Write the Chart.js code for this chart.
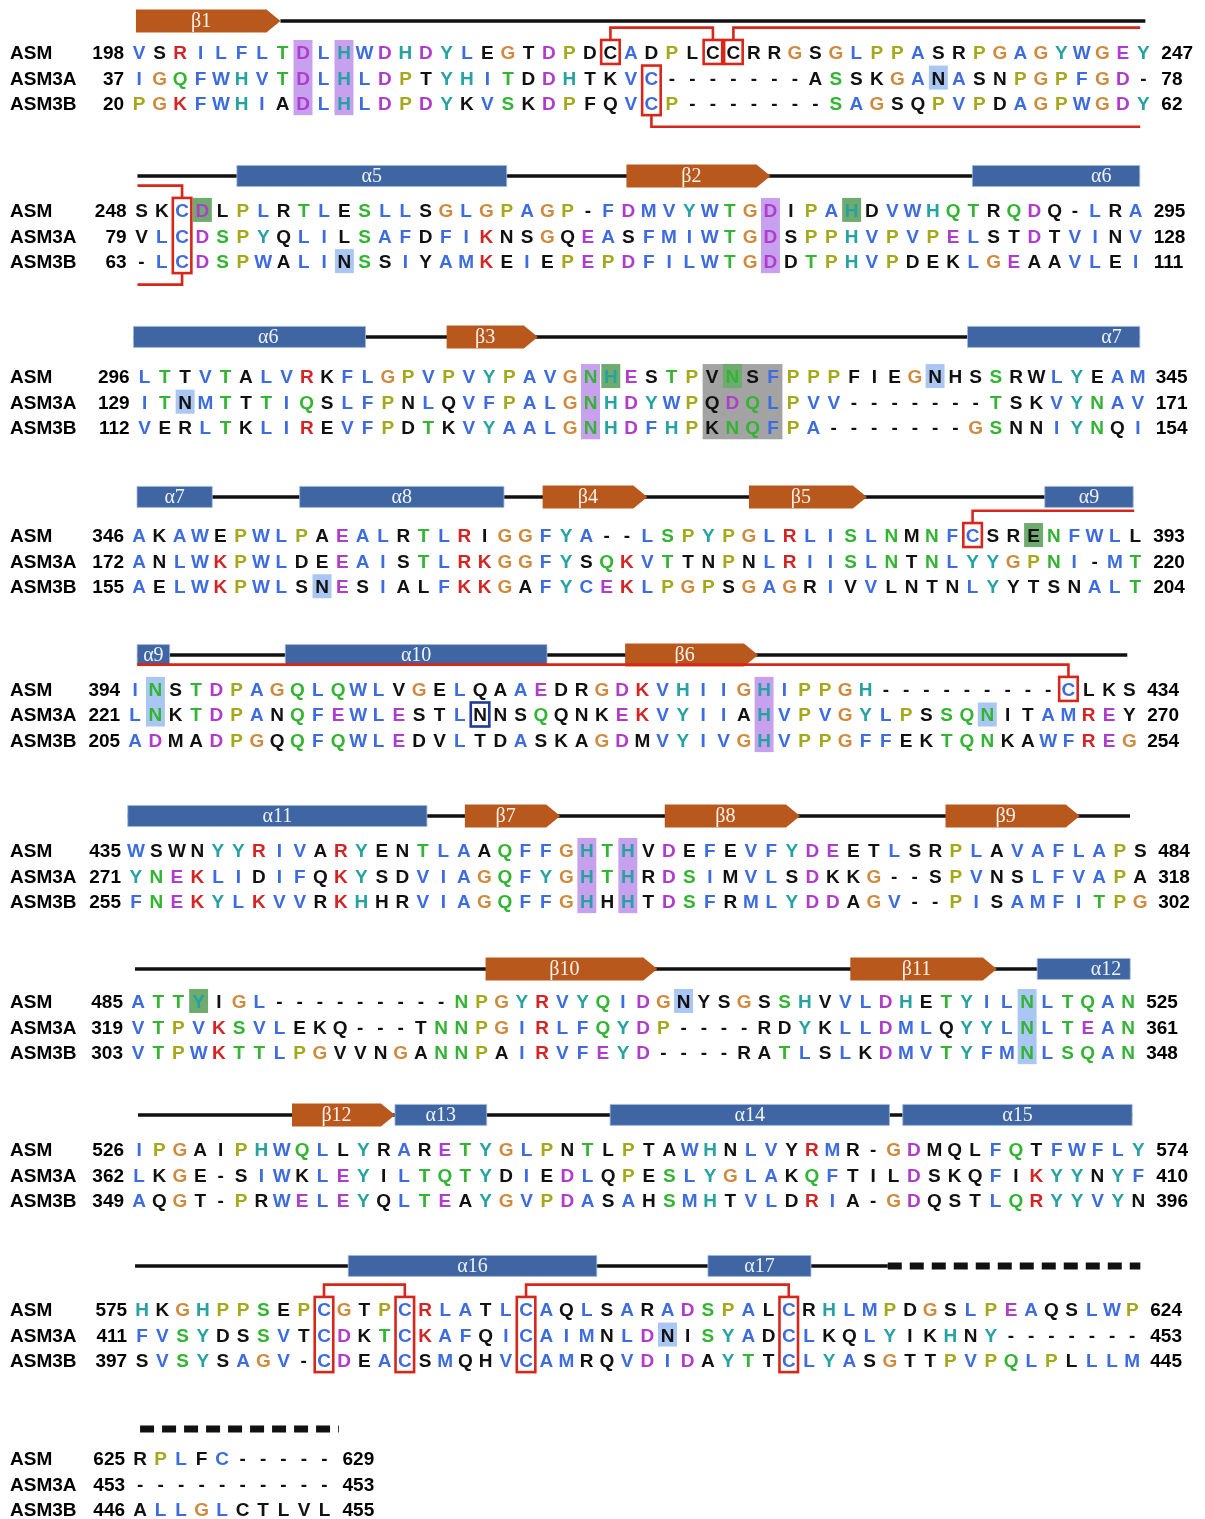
<!DOCTYPE html>
<html lang="en">
<head>
  <meta charset="UTF-8">
  <title>ASM / ASM3A / ASM3B alignment</title>
  <script src="https://cdn.jsdelivr.net/npm/chart.js"></script>
  <style>
    html, body { margin: 0; padding: 0; background: #fff; }
    .chart-container { width: 1205px; height: 1519px; }
  </style>
</head>
<body>
<div class="chart-container">
  <canvas id="alnChart"></canvas>
</div>

<script>
// ---- data: one string per alignment block ----
const seqNames = ['ASM', 'ASM3A', 'ASM3B'];

const asmSeq = [
  'VSRILFLTDLHWDHDYLEGTDPDCADPLCCRRGSGLPPASRPGAGYWGEY',
  'SKCDLPLRTLESLLSGLGPAGP-FDMVYWTGDIPAHDVWHQTRQDQ-LRA',
  'LTTVTALVRKFLGPVPVYPAVGNHESTPVNSFPPPFIEGNHSSRWLYEAM',
  'AKAWEPWLPAEALRTLRIGGFYA--LSPYPGLRLISLNMNFCSRENFWLL',
  'INSTDPAGQLQWLVGELQAAEDRGDKVHIIGHIPPGH---------CLKS',
  'WSWNYYRIVARYENTLAAQFFGHTHVDEFEVFYDEETLSRPLAVAFLAPS',
  'ATTYIGL---------NPGYRVYQIDGNYSGSSHVVLDHETYILNLTQAN',
  'IPGAIPHWQLLYRARETYGLPNTLPTAWHNLVYRMR-GDMQLFQTFWFLY',
  'HKGHPPSEPCGTPCRLATLCAQLSARADSPALCRHLMPDGSLPEAQSLWP',
  'RPLFC-----'
];
const asm3aSeq = [
  'IGQFWHVTDLHLDPTYHITDDHTKVC-------ASSKGANASNPGPFGD-',
  'VLCDSPYQLILSAFDFIKNSGQEASFMIWTGDSPPHVPVPELSTDTVINV',
  'ITNMTTTIQSLFPNLQVFPALGNHDYWPQDQLPVV-------TSKVYNAV',
  'ANLWKPWLDEEAISTLRKGGFYSQKVTTNPNLRIISLNTNLYYGPNI-MT',
  'LNKTDPANQFEWLESTLNNSQQNKEKVYIIAHVPVGYLPSSQNITAMREY',
  'YNEKLIDIFQKYSDVIAGQFYGHTHRDSIMVLSDKKG--SPVNSLFVAPA',
  'VTPVKSVLEKQ---TNNPGIRLFQYDP----RDYKLLDMLQYYLNLTEAN',
  'LKGE-SIWKLEYILTQTYDIEDLQPESLYGLAKQFTILDSKQFIKYYNYF',
  'FVSYDSSVTCDKTCKAFQICAIMNLDNISYADCLKQLYIKHNY-------',
  '----------'
];
const asm3bSeq = [
  'PGKFWHIADLHLDPDYKVSKDPFQVCP-------SAGSQPVPDAGPWGDY',
  '-LCDSPWALINSSIYAMKEIEPEPDFILWTGDDTPHVPDEKLGEAAVLEI',
  'VERLTKLIREVFPDTKVYAALGNHDFHPKNQFPA-------GSNNIYNQI',
  'AELWKPWLSNESIALFKKGAFYCEKLPGPSGAGRIVVLNTNLYYTSNALT',
  'ADMADPGQQFQWLEDVLTDASKAGDMVYIVGHVPPGFFEKTQNKAWFREG',
  'FNEKYLKVVRKHHRVIAGQFFGHHHTDSFRMLYDDAGV--PISAMFITPG',
  'VTPWKTTLPGVVNGANNPAIRVFEYD----RATLSLKDMVTYFMNLSQAN',
  'AQGT-PRWELEYQLTEAYGVPDASAHSMHTVLDRIA-GDQSTLQRYYVYN',
  'SVSYSAGV-CDEACSMQHVCAMRQVDIDAYTTCLYASGTTPVPQLPLLLM',
  'ALLGLCTLVL'
];

const asmStart   = [198, 248, 296, 346, 394, 435, 485, 526, 575, 625];
const asmEnd     = [247, 295, 345, 393, 434, 484, 525, 574, 624, 629];
const asm3aStart = [37, 79, 129, 172, 221, 271, 319, 362, 411, 453];
const asm3aEnd   = [78, 128, 171, 220, 270, 318, 361, 410, 453, 453];
const asm3bStart = [20, 63, 112, 155, 205, 255, 303, 349, 397, 446];
const asm3bEnd   = [62, 111, 154, 204, 254, 302, 348, 396, 445, 455];

// secondary structure of ASM, in alignment columns: [block, from, to, style]
const ssLines = [
  [0, 7.9, 50.1, 'solid'], [1, 0.8, 50.2, 'solid'], [2, 0.45, 50.1, 'solid'],
  [3, 0.9, 49.9, 'solid'], [4, 1.1, 49.9, 'solid'], [5, 0.6, 49.5, 'solid'],
  [6, 0.85, 50.1, 'solid'], [7, 0.95, 49.7, 'solid'], [8, 0.65, 37.9, 'solid'],
  [8, 37.9, 50.4, 'dash'], [9, 1.0, 10.7, 'dash']
];
// [block, type, label, from, to, label column (optional)]
const ssElems = [
  [0, 'strand', 'β1', 0.85, 7.9],
  [1, 'helix', 'α5', 5.7, 19.0],
  [1, 'strand', 'β2', 24.9, 32.0],
  [1, 'helix', 'α6', 41.95, 50.2, 48.3],
  [2, 'helix', 'α6', 0.45, 11.9, 7.1],
  [2, 'strand', 'β3', 15.9, 20.4],
  [2, 'helix', 'α7', 41.6, 50.1, 48.7],
  [3, 'helix', 'α7', 0.9, 4.6],
  [3, 'helix', 'α8', 8.9, 18.95],
  [3, 'strand', 'β4', 20.85, 26.0],
  [3, 'strand', 'β5', 31.0, 36.8],
  [3, 'helix', 'α9', 45.55, 49.9],
  [4, 'helix', 'α9', 1.1, 2.7],
  [4, 'helix', 'α10', 8.4, 21.3],
  [4, 'strand', 'β6', 25.15, 31.7],
  [5, 'helix', 'α11', 0.6, 15.2],
  [5, 'strand', 'β7', 17.05, 21.7],
  [5, 'strand', 'β8', 26.8, 33.4],
  [5, 'strand', 'β9', 40.5, 47.05],
  [6, 'strand', 'β10', 18.2, 26.7],
  [6, 'strand', 'β11', 36.25, 43.5],
  [6, 'helix', 'α12', 45.5, 50.1, 48.9],
  [7, 'strand', 'β12', 8.5, 13.55],
  [7, 'helix', 'α13', 13.55, 18.05],
  [7, 'helix', 'α14', 24.1, 37.8],
  [7, 'helix', 'α15', 38.45, 49.7],
  [8, 'helix', 'α16', 11.2, 23.5],
  [8, 'helix', 'α17', 29.0, 34.1]
];

// shaded residues: [block, fromCol, toCol, fromRow, toRow, kind]
const highlights = [
  [0, 9, 9, 0, 2, 'purple'], [0, 11, 11, 0, 2, 'purple'], [0, 40, 40, 1, 1, 'blue'],
  [1, 4, 4, 0, 0, 'green'], [1, 36, 36, 0, 0, 'green'], [1, 32, 32, 0, 2, 'purple'],
  [1, 11, 11, 2, 2, 'blue'],
  [2, 23, 23, 0, 2, 'purple'], [2, 24, 24, 0, 0, 'green'], [2, 29, 32, 0, 2, 'gray'],
  [2, 30, 30, 0, 0, 'green'], [2, 40, 40, 0, 0, 'blue'], [2, 3, 3, 1, 1, 'blue'],
  [3, 45, 45, 0, 0, 'green'], [3, 10, 10, 2, 2, 'blue'],
  [4, 2, 2, 0, 1, 'blue'], [4, 32, 32, 0, 2, 'purple'], [4, 43, 43, 1, 1, 'blue'],
  [5, 23, 23, 0, 2, 'purple'], [5, 25, 25, 0, 2, 'purple'],
  [6, 4, 4, 0, 0, 'green'], [6, 28, 28, 0, 0, 'blue'], [6, 45, 45, 0, 2, 'blue'],
  [8, 27, 27, 1, 1, 'blue']
];
// boxed cysteines [block, col, fromRow, toRow] and disulfide links [block, from, to, side]
const cysBoxes = [
  [0, 24, 0, 0], [0, 29, 0, 0], [0, 30, 0, 0], [0, 26, 1, 2],
  [1, 3, 0, 2], [3, 42, 0, 0], [4, 47, 0, 0],
  [8, 10, 0, 2], [8, 14, 0, 2], [8, 20, 0, 2], [8, 33, 0, 2]
];
const ssBonds = [
  [0, 24, 29, 'top'], [0, 30, 49.85, 'top'], [0, 26, 49.85, 'bottom'],
  [1, 0.8, 3, 'top'], [1, 0.8, 3, 'bottom'],
  [3, 42, 49.95, 'top'], [4, 1.1, 47, 'top'],
  [8, 10, 14, 'top'], [8, 20, 33, 'top']
];
const navyBoxes = [[4, 18, 1, 1]];

// ---- layout (axis units: x = alignment column, y = text row) ----
const X_MIN = -5.75, X_MAX = 52.75;
const ROW_PX = 25.6;
const Y_MAX = 1519 / ROW_PX;
const blockRow = [2.03, 8.2, 14.69, 20.9, 26.91, 33.2, 39.1, 44.88, 51.13, 56.95];
const ssRow    = [0.82, 6.875, 13.16, 19.41, 25.59, 31.875, 37.85, 43.55, 49.45, 55.82];
const blockShift   = [0, 0.12, 0.27, 0, -0.19, -0.15, -0.05, 0, 0.15, 0.05];
const blockStretch = [0.995, 0.985, 0.984, 0.987, 0.985, 0.995, 0.981, 0.99, 0.981, 0.995];

function colValue(b, c) {
  return 1 + blockShift[b] + (c - 1) * blockStretch[b];
}

// ---- Clustal X colouring ----
const CLX = {
  BLUE: '#3d6be0', RED: '#d42424', GREEN: '#33b533', CYAN: '#27a2a2',
  PINK: '#e07f7f', MAGENTA: '#b03ccc', YELLOW: '#a5a81a', ORANGE: '#cf8a3d'
};
const HYD = 'WLVIMAFCYHP';
const BLUE_IF = '%#ACFHILMVWYPp';
const RULES = {
  G: [['ORANGE', '*']], P: [['YELLOW', '*']],
  T: [['GREEN', 'tST%#']], S: [['GREEN', 'tST#']],
  N: [['GREEN', 'nND']], Q: [['GREEN', 'qQE+KR']],
  W: [['BLUE', BLUE_IF]], L: [['BLUE', BLUE_IF]], V: [['BLUE', BLUE_IF]],
  I: [['BLUE', BLUE_IF]], M: [['BLUE', BLUE_IF]], F: [['BLUE', BLUE_IF]],
  A: [['BLUE', BLUE_IF + 'TSG']],
  C: [['BLUE', '%#AFHILMVWYSPp'], ['PINK', 'C']],
  H: [['CYAN', BLUE_IF]], Y: [['CYAN', BLUE_IF]],
  E: [['MAGENTA', '-DEqQ']], D: [['MAGENTA', '-DEnN']],
  K: [['RED', '+KRQ']], R: [['RED', '+KRQ']]
};

function columnFlags(chars) {
  const pct = set => 100 * chars.filter(ch => set.includes(ch)).length / chars.length;
  const f = new Set(['*']);
  if (pct(HYD) >= 60) f.add('%');
  if (pct(HYD) >= 80) f.add('#');
  if (pct('ED') >= 50) f.add('-');
  if (pct('KR') >= 60) f.add('+');
  if (pct('G') >= 50) f.add('g');
  if (pct('N') >= 50) f.add('n');
  if (pct('QE') >= 50) f.add('q');
  if (pct('P') >= 50) f.add('p');
  if (pct('TS') >= 50) f.add('t');
  'ACDEFGHIKLMNPQRSTVWY'.split('').forEach(a => { if (pct(a) >= 85) f.add(a); });
  return f;
}

function residueColour(ch, flags) {
  const rules = RULES[ch];
  if (!rules) return '#111';
  for (const [col, cond] of rules) {
    if (cond.split('').some(k => flags.has(k))) return CLX[col];
  }
  return '#111';
}

// one point per residue, placed by the chart's scales
const allSeqs = [asmSeq, asm3aSeq, asm3bSeq];
const residuePoints = [];
for (let b = 0; b < asmSeq.length; b++) {
  const len = asmSeq[b].length;
  for (let c = 0; c < len; c++) {
    const chars = allSeqs.map(s => s[b][c]);
    const flags = columnFlags(chars);
    chars.forEach((ch, r) => {
      residuePoints.push({
        x: colValue(b, c + 1), y: blockRow[b] + r, ch,
        color: ch === '-' ? '#111' : residueColour(ch, flags)
      });
    });
  }
}

const SHADE = {
  purple: '#c7a1ee', green: '#6eab6e', blue: '#a9c7f2', gray: '#a3a3a3'
};
const FONT = 'bold 19px "Liberation Sans", Arial, sans-serif';

const alignmentPlugin = {
  id: 'alignment',
  beforeDatasetsDraw(chart) {
    const { ctx, scales: { x, y } } = chart;
    ctx.save();
    const colW = Math.abs(x.getPixelForValue(1) - x.getPixelForValue(0));
    highlights.forEach(([b, c0, c1, r0, r1, kind]) => {
      const xl = x.getPixelForValue(colValue(b, c0)) - colW * 0.46;
      const xr = x.getPixelForValue(colValue(b, c1)) + colW * 0.46;
      const yt = y.getPixelForValue(blockRow[b] + r0) - 12;
      const yb = y.getPixelForValue(blockRow[b] + r1) + 12;
      ctx.fillStyle = SHADE[kind];
      ctx.fillRect(xl, yt, xr - xl, yb - yt);
    });

    // secondary structure track
    ssLines.forEach(([b, c0, c1, style]) => {
      const yy = y.getPixelForValue(ssRow[b]);
      ctx.beginPath();
      ctx.strokeStyle = '#111';
      if (style === 'dash') {
        ctx.lineWidth = 7;
        ctx.setLineDash([14, 8]);
      } else {
        ctx.lineWidth = 3.5;
        ctx.setLineDash([]);
      }
      ctx.moveTo(x.getPixelForValue(colValue(b, c0)), yy);
      ctx.lineTo(x.getPixelForValue(colValue(b, c1)), yy);
      ctx.stroke();
    });
    ctx.setLineDash([]);

    ssElems.forEach(([b, type, label, c0, c1, lc]) => {
      const yy = y.getPixelForValue(ssRow[b]);
      const x0 = x.getPixelForValue(colValue(b, c0));
      const x1 = x.getPixelForValue(colValue(b, c1));
      let lx;
      ctx.beginPath();
      if (type === 'helix') {
        const h = 21;
        ctx.fillStyle = '#3f66a3';
        ctx.rect(x0, yy - h / 2, x1 - x0, h);
        ctx.fill();
        ctx.strokeStyle = 'rgba(160,185,225,0.8)';
        ctx.lineWidth = 1;
        ctx.stroke();
        lx = (x0 + x1) / 2;
      } else {
        const h = 23, tip = Math.min(14, (x1 - x0) * 0.4);
        ctx.fillStyle = '#b9581c';
        ctx.moveTo(x0, yy - h / 2);
        ctx.lineTo(x1 - tip, yy - h / 2);
        ctx.lineTo(x1, yy);
        ctx.lineTo(x1 - tip, yy + h / 2);
        ctx.lineTo(x0, yy + h / 2);
        ctx.closePath();
        ctx.fill();
        lx = (x0 + x1 - tip) / 2;
      }
      if (lc !== undefined) lx = x.getPixelForValue(colValue(b, lc));
      ctx.fillStyle = 'rgba(255,255,255,0.92)';
      ctx.font = '20px "Liberation Serif", "DejaVu Serif", serif';
      ctx.textAlign = 'center';
      ctx.textBaseline = 'middle';
      ctx.fillText(label, lx, yy + 1);
    });
    ctx.restore();
  },
  afterDatasetsDraw(chart) {
    const { ctx, scales: { x, y } } = chart;
    const meta = chart.getDatasetMeta(0);
    const pts = chart.data.datasets[0].data;
    ctx.save();
    ctx.font = FONT;
    ctx.textBaseline = 'alphabetic';
    ctx.textAlign = 'center';
    meta.data.forEach((el, i) => {
      ctx.fillStyle = pts[i].color;
      ctx.fillText(pts[i].ch, el.x, el.y + 7);
    });

    // names and residue numbers
    const starts = [asmStart, asm3aStart, asm3bStart];
    const ends = [asmEnd, asm3aEnd, asm3bEnd];
    ctx.fillStyle = '#000';
    for (let b = 0; b < asmSeq.length; b++) {
      const len = asmSeq[b].length;
      for (let r = 0; r < 3; r++) {
        const yy = y.getPixelForValue(blockRow[b] + r) + 7;
        ctx.textAlign = 'left';
        ctx.fillText(seqNames[r], x.getPixelForValue(X_MIN) + 10, yy);
        ctx.textAlign = 'right';
        ctx.fillText(String(starts[r][b]), x.getPixelForValue(colValue(b, 1)) - 15, yy);
        ctx.textAlign = 'left';
        ctx.fillText(String(ends[r][b]), x.getPixelForValue(colValue(b, len)) + 18, yy);
      }
    }

    // cysteine boxes and disulfide links
    const colW = Math.abs(x.getPixelForValue(1) - x.getPixelForValue(0));
    const boxTop = (b, r) => y.getPixelForValue(blockRow[b] + r) - 12;
    const boxBot = (b, r) => y.getPixelForValue(blockRow[b] + r) + 12;
    ctx.lineWidth = 2.6;
    ctx.strokeStyle = '#d8261b';
    cysBoxes.forEach(([b, c, r0, r1]) => {
      const xc = x.getPixelForValue(colValue(b, c));
      ctx.strokeRect(xc - colW * 0.45, boxTop(b, r0), colW * 0.9, boxBot(b, r1) - boxTop(b, r0));
    });
    ssBonds.forEach(([b, c0, c1, side]) => {
      const xa = x.getPixelForValue(colValue(b, c0));
      const xb = x.getPixelForValue(colValue(b, c1));
      const boxes = cysBoxes.filter(bx => bx[0] === b);
      const boxAt = c => boxes.find(bx => bx[1] === c);
      ctx.beginPath();
      if (side === 'top') {
        const ly = y.getPixelForValue(blockRow[b] - 0.95);
        const ba = boxAt(c0), bb = boxAt(c1);
        if (ba) { ctx.moveTo(xa, boxTop(b, ba[2])); ctx.lineTo(xa, ly); } else ctx.moveTo(xa, ly);
        ctx.lineTo(xb, ly);
        if (bb) ctx.lineTo(xb, boxTop(b, bb[2]));
      } else {
        const ly = y.getPixelForValue(blockRow[b] + 2 + 0.92);
        const ba = boxAt(c0), bb = boxAt(c1);
        if (ba) { ctx.moveTo(xa, boxBot(b, ba[3])); ctx.lineTo(xa, ly); } else ctx.moveTo(xa, ly);
        ctx.lineTo(xb, ly);
        if (bb) ctx.lineTo(xb, boxBot(b, bb[3]));
      }
      ctx.stroke();
    });
    ctx.strokeStyle = '#1d3a99';
    navyBoxes.forEach(([b, c, r0, r1]) => {
      const xc = x.getPixelForValue(colValue(b, c));
      ctx.strokeRect(xc - colW * 0.45, boxTop(b, r0), colW * 0.9, boxBot(b, r1) - boxTop(b, r0));
    });
    ctx.restore();
  }
};

const ctx = document.getElementById('alnChart').getContext('2d');
new Chart(ctx, {
  type: 'scatter',
  data: {
    datasets: [{
      label: 'residues',
      data: residuePoints,
      pointRadius: 0,
      pointHoverRadius: 0
    }]
  },
  options: {
    responsive: true,
    maintainAspectRatio: false,
    animation: false,
    events: [],
    layout: { padding: 0 },
    plugins: { legend: { display: false }, tooltip: { enabled: false } },
    scales: {
      x: { type: 'linear', min: X_MIN, max: X_MAX, display: false },
      y: { type: 'linear', min: 0, max: Y_MAX, reverse: true, display: false }
    }
  },
  plugins: [alignmentPlugin]
});
</script>
</body>
</html>
